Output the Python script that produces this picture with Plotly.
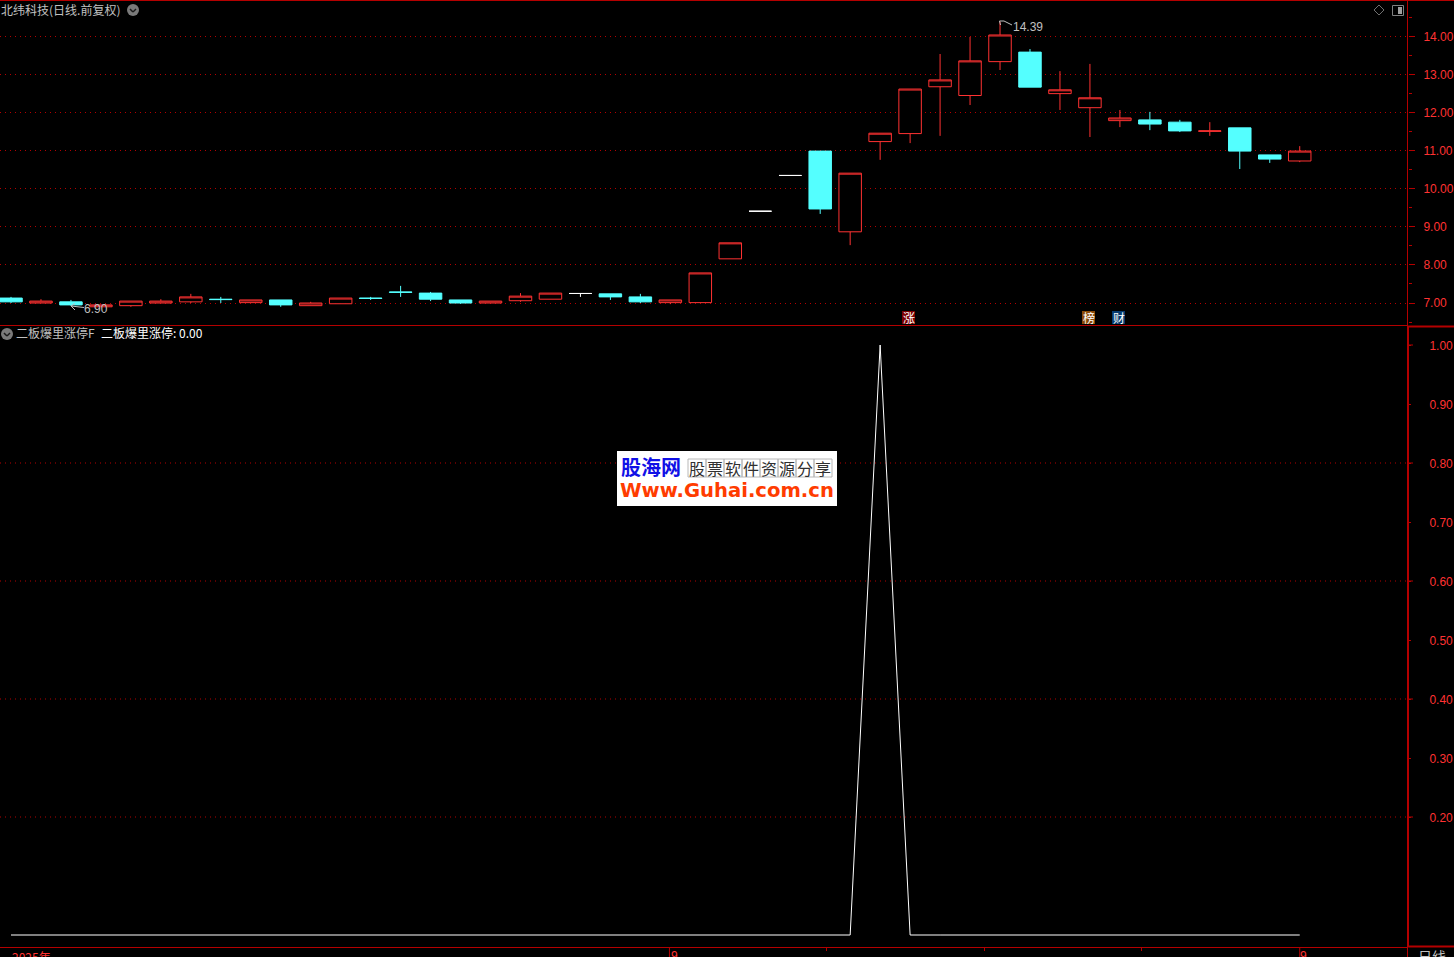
import plotly.graph_objects as go

W, H = 1454, 957

# ---------- data ----------
index = list(range(44))
opens = [7.13,7.00,7.03,6.90,6.93,7.00,7.03,7.10,7.01,7.08,6.93,6.98,7.13,7.29,7.26,7.08,7.00,7.06,7.10,7.25,
         7.24,7.16,7.01,7.01,8.16,9.41,10.35,10.99,8.87,11.24,11.45,12.68,12.45,13.34,13.59,12.50,12.13,11.79,
         11.81,11.75,11.51,11.60,10.89,10.73]
highs = [7.16,7.10,7.08,6.95,7.05,7.10,7.24,7.16,7.08,7.08,7.03,7.13,7.16,7.45,7.29,7.08,7.05,7.26,7.26,7.25,
         7.24,7.24,7.08,7.79,8.58,9.41,10.35,10.99,10.41,11.46,12.62,13.54,13.99,14.39,13.67,13.09,13.28,12.07,
         12.02,11.81,11.75,11.60,10.89,11.12]
lows = [7.00,7.00,6.92,6.90,6.90,7.00,7.00,7.00,7.01,6.90,6.93,6.98,7.08,7.16,7.05,6.98,7.00,7.03,7.10,7.16,
        7.08,7.00,6.97,7.01,8.16,9.41,10.35,9.34,8.52,10.76,11.20,11.39,12.20,13.12,12.67,12.07,11.36,11.62,
        11.54,11.49,11.39,10.52,10.68,10.70]
closes = [7.03,7.05,6.95,6.95,7.05,7.05,7.16,7.09,7.08,6.95,7.00,7.13,7.12,7.28,7.10,7.00,7.05,7.18,7.26,7.25,
          7.16,7.03,7.08,7.79,8.58,9.41,10.35,9.47,10.41,11.46,12.62,12.86,13.36,14.04,12.67,12.60,12.39,11.86,
          11.70,11.52,11.52,10.99,10.78,10.99]
flat_days = [19, 25, 26]  # open equals close: drawn white
signal = [0]*29 + [1] + [0]*14

price_ticks = [7, 8, 9, 10, 11, 12, 13, 14]
signal_ticks = [0.2, 0.3, 0.4, 0.5, 0.6, 0.7, 0.8, 0.9, 1.0]
signal_grid = [0.2, 0.4, 0.6, 0.8]
signal_long_ticks = [0.2, 0.4, 0.6, 0.8, 1.0]
time_small_ticks = [27.2, 32.48, 37.73]
time_long_ticks = [21.97, 43.0]
logo_chars = list("股票软件资源分享")

RED = "#ff3232"
LINE = "#b40000"
CYAN = "#54ffff"
GREY = "#c0c0c0"
CJK = "Noto Sans CJK SC"
DOTS = "1px,4px"

# ---------- helpers ----------
def px(x): return x / W
def py(y): return 1 - y / H

shapes, anns = [], []

def paper_line(x0, y0, x1, y1, color=LINE, width=1):
    shapes.append(dict(type="line", xref="paper", yref="paper", x0=px(x0), x1=px(x1), y0=py(y0), y1=py(y1),
                       line=dict(color=color, width=width), layer="above"))

def paper_rect(x0, y0, x1, y1, fill="rgba(0,0,0,0)", color=None, width=0):
    shapes.append(dict(type="rect", xref="paper", yref="paper", x0=px(x0), x1=px(x1), y0=py(y0), y1=py(y1),
                       fillcolor=fill, line=dict(color=color or "rgba(0,0,0,0)", width=width), layer="above"))

def text(t, x, y, color=GREY, size=12, family=CJK, anchor="left", bold=False):
    anns.append(dict(text=f"<b>{t}</b>" if bold else t, xref="paper", yref="paper", x=px(x), y=py(y),
                     xanchor=anchor, yanchor="middle", showarrow=False, borderpad=0, borderwidth=0,
                     font=dict(color=color, size=size, family=family)))

def chevron_icon(cx, cy):
    shapes.append(dict(type="circle", xref="paper", yref="paper", x0=px(cx-6), x1=px(cx+6), y0=py(cy-6), y1=py(cy+6),
                       fillcolor="#7a7a7a", line=dict(width=0), layer="above"))
    paper_line(cx-3, cy-1, cx, cy+2, "#1a1a1a", 1.5)
    paper_line(cx, cy+2, cx+3, cy-1, "#1a1a1a", 1.5)

# ---------- figure ----------
fig = go.Figure()

normal = [i for i in index if i not in flat_days]
pick = lambda arr, ids: [arr[i] for i in ids]
fig.add_trace(go.Candlestick(
    x=pick(index, normal), open=pick(opens, normal), high=pick(highs, normal),
    low=pick(lows, normal), close=pick(closes, normal),
    increasing=dict(line=dict(color=RED, width=1), fillcolor="#000000"),
    decreasing=dict(line=dict(color=CYAN, width=1), fillcolor=CYAN),
    whiskerwidth=0, hoverinfo="skip", xaxis="x", yaxis="y", showlegend=False))
fig.add_trace(go.Candlestick(
    x=flat_days, open=pick(opens, flat_days), high=pick(highs, flat_days),
    low=pick(lows, flat_days), close=pick(closes, flat_days),
    increasing=dict(line=dict(color="#ffffff", width=1), fillcolor="#000000"),
    decreasing=dict(line=dict(color="#ffffff", width=1), fillcolor="#000000"),
    whiskerwidth=0, hoverinfo="skip", xaxis="x", yaxis="y", showlegend=False))
fig.add_trace(go.Scatter(x=index, y=signal, mode="lines", line=dict(color="#ffffff", width=1),
                         hoverinfo="skip", xaxis="x2", yaxis="y2", showlegend=False))

# bottom pane grid and long ticks, placed through the value axis
for v in signal_grid:
    shapes.append(dict(type="line", xref="paper", yref="y2", x0=0, x1=px(1408), y0=v, y1=v, layer="below",
                       line=dict(color=LINE, width=1, dash=DOTS)))
for v in signal_long_ticks:
    shapes.append(dict(type="line", xref="paper", yref="y2", x0=px(1408), x1=px(1413), y0=v, y1=v, layer="above",
                       line=dict(color=LINE, width=1)))
for v in time_long_ticks:
    shapes.append(dict(type="line", xref="x2", yref="paper", x0=v, x1=v, y0=py(947), y1=0, layer="above",
                       line=dict(color=LINE, width=1)))

# frame
paper_line(0, 0.5, W, 0.5)
paper_line(0, 325.5, 1408, 325.5)
paper_line(1408, 326.5, W, 326.5, LINE, 2)
paper_line(0, 947.5, 1408, 947.5)
paper_line(1408, 946.5, W, 946.5, LINE, 2)
paper_line(1408, 326, 1408, 947, LINE, 2)
paper_line(1407.5, 0, 1407.5, 326)
paper_line(1407.5, 947, 1407.5, H)

# header text and icons
text("北纬科技(日线.前复权)", 1, 9)
chevron_icon(133, 10)
chevron_icon(7, 334)
text("二板爆里涨停F", 16, 333)
text("二板爆里涨停: 0.00", 101, 333, "#ffffff")

# top right icons
shapes.append(dict(type="path", xref="paper", yref="paper", layer="above",
                   path=f"M{px(1379)},{py(5)} L{px(1384)},{py(10)} L{px(1379)},{py(15)} L{px(1374)},{py(10)} Z",
                   line=dict(color="#707070", width=1)))
paper_rect(1392.5, 5.5, 1403.5, 15.5, "#000000", "#808080", 1)
paper_rect(1398, 7, 1402, 14, "#a0a0a0")

# extreme labels
text("6.90", 84, 309, GREY, 12, "Liberation Sans")
paper_line(71, 306, 84, 307.5, GREY, 1)
paper_line(71, 306, 75, 303.5, GREY, 1)
paper_line(71, 306, 75, 310, GREY, 1)
text("14.39", 1013, 27, GREY, 12, "Liberation Sans")
paper_line(999.5, 21, 1004, 21, GREY, 1)
paper_line(999.5, 21, 1000.5, 25, GREY, 1)
paper_line(1004, 21, 1012, 25, GREY, 1)

# event badges
for ch, left, bg in [("涨", 902, "#7d0000"), ("榜", 1082, "#8a4a08"), ("财", 1112, "#063a6e")]:
    paper_rect(left, 311, left + 13, 324, bg)
    text(ch, left + 6.5, 317, "#ffffff", 12, CJK, "center")

# logo
paper_rect(617, 451, 837, 506, "#ffffff")
text("股海网", 620.5, 467, "#1010e6", 20, CJK, bold=True)
for k, ch in enumerate(logo_chars):
    left = 688 + 18 * k
    paper_rect(left, 459, left + 18, 477, "rgba(0,0,0,0)", "#b8b8b8", 1)
    text(ch, left + 9, 467.5, "#303030", 16, CJK, "center")
text("Www.Guhai.com.cn", 620, 490.5, "#ff3c00", 19.6, "DejaVu Sans", bold=True)

# bottom strip text
text("2025年", 12, 956, RED, 12, CJK)
text("9", 670.5, 956, RED, 12, "Liberation Sans")
text("9", 1299.5, 956, RED, 12, "Liberation Sans")
text("日线", 1418, 955.5, GREY, 14, CJK)

xrange_ = [-0.367, 46.613]
fig.update_layout(
    width=W, height=H, margin=dict(l=0, r=0, t=0, b=0), autosize=False,
    paper_bgcolor="#000000", plot_bgcolor="#000000", boxgap=0.25, boxgroupgap=0, showlegend=False,
    shapes=shapes, annotations=anns,
    xaxis=dict(domain=[0, px(1408)], range=xrange_, anchor="y", visible=False, rangeslider=dict(visible=False),
               fixedrange=True),
    xaxis2=dict(domain=[0, px(1408)], range=xrange_, anchor="y2", showgrid=False, zeroline=False, showline=False,
                tickmode="array", tickvals=time_small_ticks, ticktext=[""]*len(time_small_ticks),
                ticks="outside", ticklen=3, tickcolor=LINE, fixedrange=True),
    yaxis=dict(domain=[py(325), py(1)], range=[6.422, 14.9325], side="right", anchor="x",
               tickmode="array", tickvals=price_ticks, ticktext=[f"{v:.2f}" for v in price_ticks],
               tickfont=dict(color=RED, size=12, family="Liberation Sans"),
               ticks="outside", ticklen=6, tickcolor=LINE, ticklabelstandoff=6,
               showgrid=True, gridcolor=LINE, griddash=DOTS, gridwidth=1,
               minor=dict(dtick=0.5, tick0=0, ticks="outside", ticklen=3, tickcolor=LINE, showgrid=False),
               zeroline=False, showline=False, fixedrange=True),
    yaxis2=dict(domain=[py(947), py(326)], range=[-0.02034, 1.0322], side="right", anchor="x2",
                tickmode="array", tickvals=signal_ticks, ticktext=[f"{v:.2f}" for v in signal_ticks],
                tickfont=dict(color=RED, size=12, family="Liberation Sans"),
                ticks="outside", ticklen=2, tickcolor=LINE, ticklabelstandoff=16, ticklabelshift=1,
                showgrid=False, zeroline=False, showline=False, fixedrange=True),
)

fig.write_html("out.html", config=dict(displayModeBar=False),
               post_script="document.body.style.margin='0';document.body.style.overflow='hidden';document.body.style.background='#000';")
